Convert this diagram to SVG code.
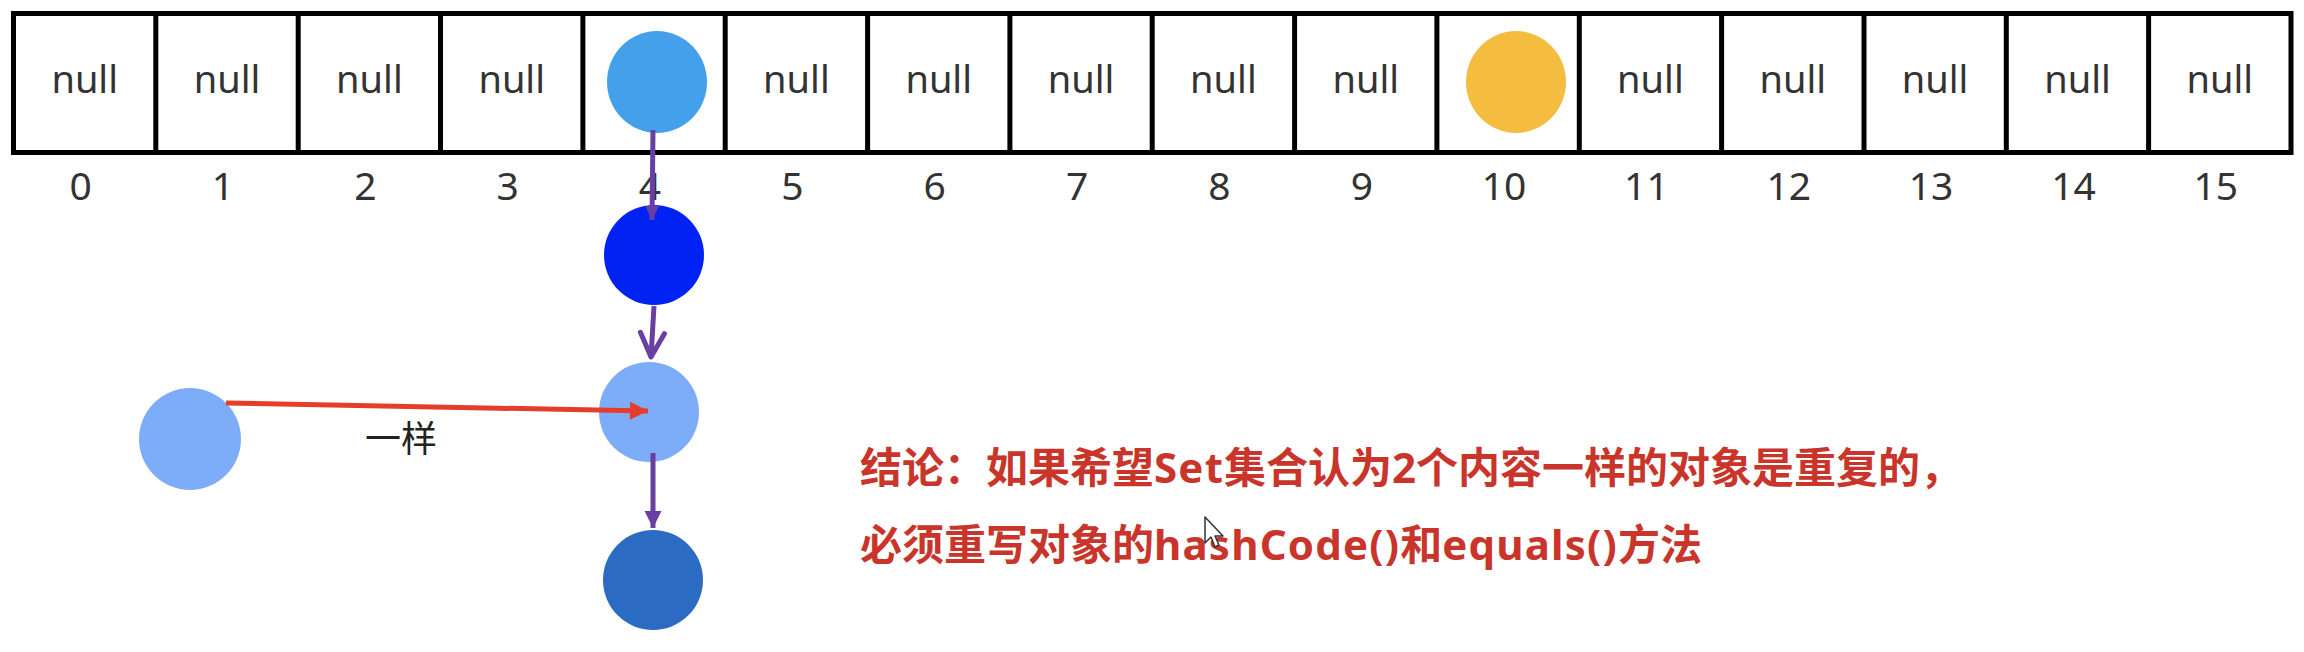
<svg xmlns="http://www.w3.org/2000/svg" width="2304" height="652" viewBox="0 0 2304 652">
<defs>
<style>
.cell{fill:#fff;stroke:#000;stroke-width:5}
.null{font-family:"Noto Sans","Open Sans",sans-serif;font-size:38px;fill:#333;text-anchor:middle}
.idx{font-family:"Noto Sans","Open Sans",sans-serif;font-size:39px;fill:#333;text-anchor:middle}
.purple{stroke:#6A3FA2;stroke-width:5;fill:none}
.red{stroke:#E53D2A;stroke-width:5;fill:none}
.concl{font-family:"Noto Sans","Noto Sans CJK SC",sans-serif;font-size:42px;font-weight:bold;fill:#C9352A}
.lat{letter-spacing:1.2px}
</style>
<marker id="tri-purple" viewBox="0 0 10 10" refX="10" refY="5" markerUnits="userSpaceOnUse" markerWidth="17" markerHeight="18" orient="auto">
<path d="M0,0 L10,5 L0,10 z" fill="#6A3FA2"/>
</marker>
<marker id="tri-purple-s" viewBox="0 0 10 10" refX="10" refY="5" markerUnits="userSpaceOnUse" markerWidth="14" markerHeight="14" orient="auto">
<path d="M0,0 L10,5 L0,10 z" fill="#6A3FA2"/>
</marker>
<marker id="chev-purple" viewBox="0 0 30 30" refX="27" refY="15" markerUnits="userSpaceOnUse" markerWidth="30" markerHeight="30" orient="auto">
<path d="M3,3 L27,15 L3,27" fill="none" stroke="#6A3FA2" stroke-width="5" stroke-linecap="round" stroke-linejoin="round"/>
</marker>
<marker id="tri-red" viewBox="0 0 10 10" refX="10" refY="5" markerUnits="userSpaceOnUse" markerWidth="19" markerHeight="18" orient="auto">
<path d="M0,0 L10,5 L0,10 z" fill="#E53D2A"/>
</marker>
</defs>
<rect width="2304" height="652" fill="#fff"/>

<g id="array">
<rect class="cell" x="13.5" y="13.5" width="2277.5" height="139"/>
<g stroke="#000" stroke-width="5">
<line x1="155.8" y1="13" x2="155.8" y2="152.5"/>
<line x1="298.2" y1="13" x2="298.2" y2="152.5"/>
<line x1="440.5" y1="13" x2="440.5" y2="152.5"/>
<line x1="582.9" y1="13" x2="582.9" y2="152.5"/>
<line x1="725.2" y1="13" x2="725.2" y2="152.5"/>
<line x1="867.6" y1="13" x2="867.6" y2="152.5"/>
<line x1="1009.9" y1="13" x2="1009.9" y2="152.5"/>
<line x1="1152.2" y1="13" x2="1152.2" y2="152.5"/>
<line x1="1294.6" y1="13" x2="1294.6" y2="152.5"/>
<line x1="1436.9" y1="13" x2="1436.9" y2="152.5"/>
<line x1="1579.3" y1="13" x2="1579.3" y2="152.5"/>
<line x1="1721.6" y1="13" x2="1721.6" y2="152.5"/>
<line x1="1864" y1="13" x2="1864" y2="152.5"/>
<line x1="2006.3" y1="13" x2="2006.3" y2="152.5"/>
<line x1="2148.6" y1="13" x2="2148.6" y2="152.5"/>
</g>
<g class="null">
<text x="84.7" y="93">null</text>
<text x="227" y="93">null</text>
<text x="369.4" y="93">null</text>
<text x="511.7" y="93">null</text>
<text x="796.4" y="93">null</text>
<text x="938.7" y="93">null</text>
<text x="1081.1" y="93">null</text>
<text x="1223.4" y="93">null</text>
<text x="1365.8" y="93">null</text>
<text x="1650.4" y="93">null</text>
<text x="1792.8" y="93">null</text>
<text x="1935.1" y="93">null</text>
<text x="2077.5" y="93">null</text>
<text x="2219.8" y="93">null</text>
</g>
<g class="idx">
<text x="80.7" y="200">0</text>
<text x="223" y="200">1</text>
<text x="365.4" y="200">2</text>
<text x="507.7" y="200">3</text>
<text x="650" y="200">4</text>
<text x="792.4" y="200">5</text>
<text x="934.7" y="200">6</text>
<text x="1077.1" y="200">7</text>
<text x="1219.4" y="200">8</text>
<text x="1361.8" y="200">9</text>
<text x="1504.1" y="200">10</text>
<text x="1646.4" y="200">11</text>
<text x="1788.8" y="200">12</text>
<text x="1931.1" y="200">13</text>
<text x="2073.5" y="200">14</text>
<text x="2215.8" y="200">15</text>
</g>
</g>

<g id="node-bucket4"><ellipse cx="657" cy="82" rx="50" ry="51" fill="#45A0EB"/></g>
<g id="node-bucket10"><ellipse cx="1516" cy="82" rx="50" ry="51" fill="#F4BD40"/></g>
<g id="node-chain1"><circle cx="654" cy="255" r="50" fill="#0022F2"/></g>
<g id="node-chain2"><circle cx="649" cy="412" r="50" fill="#7DACF8"/></g>
<g id="node-chain3"><circle cx="653" cy="580" r="50" fill="#2B6BC1"/></g>
<g id="node-new"><circle cx="190" cy="439" r="51" fill="#7DACF8"/></g>

<g id="connectors">
<line class="purple" x1="653" y1="130" x2="652" y2="220" marker-end="url(#tri-purple-s)"/>
<line class="purple" x1="654" y1="306" x2="651" y2="357" marker-end="url(#chev-purple)"/>
<line class="purple" x1="653" y1="453" x2="653" y2="528" stroke-width="6" marker-end="url(#tri-purple)"/>
<line class="red" x1="226" y1="403" x2="648" y2="411" marker-end="url(#tri-red)"/>
<text x="401" y="452" font-family="'Noto Sans CJK SC',sans-serif" font-size="36" fill="#222" text-anchor="middle">一样</text>
</g>

<g id="conclusion">
<text class="concl" x="860" y="483">结论：如果希望<tspan class="lat">Set</tspan>集合认为2个内容一样的对象是重复的，</text>
<text class="concl" x="860" y="560">必须重写对象的<tspan class="lat">hashCode()</tspan>和<tspan class="lat">equals()</tspan>方法</text>
</g>

<g id="cursor">
<path d="M1205,517 L1205,543 L1211,537 L1215,547 L1219,545 L1215,536 L1223,536 Z" fill="#fff" stroke="#333" stroke-width="1.5" stroke-linejoin="round"/>
</g>
</svg>
